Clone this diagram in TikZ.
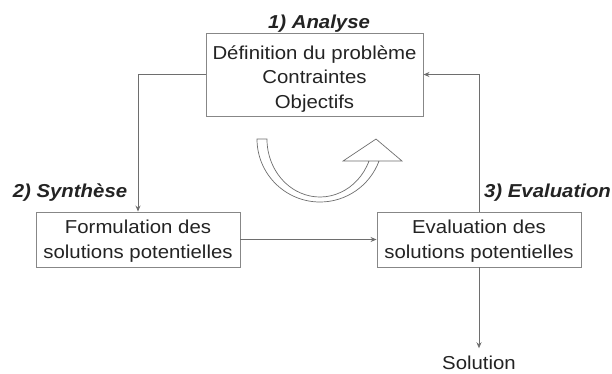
\documentclass[tikz,border=0pt]{standalone}
\usepackage{fontspec}
\setmainfont{Liberation Sans}[FakeStretch=1.09]
\usetikzlibrary{arrows.meta}
\definecolor{linegray}{RGB}{110,110,110}
\definecolor{boxgray}{RGB}{135,135,135}
\definecolor{txt}{RGB}{35,35,35}
\begin{document}
\begin{tikzpicture}[x=1pt,y=-1pt,
  box/.style={draw=boxgray, line width=0.9pt, inner sep=0pt, align=center, text=txt,
    font=\fontsize{18.7}{24.5}\selectfont, text depth=0pt},
  lbl/.style={inner sep=0pt, text=txt, font=\fontsize{18.7}{22}\selectfont\bfseries\itshape, anchor=base},
  conn/.style={draw=linegray, line width=0.8pt},
  arr/.style={conn, -{Stealth[length=6pt,width=5pt]}}]
\useasboundingbox (0,0) rectangle (612,373);
\node[box, minimum width=217pt, minimum height=83pt, text height=67pt] (top) at (314.5,74.5)
  {Définition du problème\\Contraintes\\Objectifs};
\node[box, minimum width=204pt, minimum height=55pt, text height=37pt] (b2) at (138,239.5)
  {Formulation des\\solutions potentielles};
\node[box, minimum width=204pt, minimum height=55pt, text height=37pt] (b3) at (479,239.5)
  {Evaluation des\\solutions potentielles};
\node[lbl] (l1) at (319,28) {1) Analyse};
\node[lbl] (l2) at (70,197) {2) Synthèse};
\node[lbl] (l3) at (547.5,197) {3) Evaluation};
\node[inner xsep=0pt, inner ysep=7pt, anchor=base, text=txt, font=\fontsize{18.7}{22}\selectfont] (sol) at (479,369) {Solution};
\draw[arr] (top.west) -| (b2.north);
\draw[arr] (b3.north) |- (top.east);
\draw[arr] (b2.east) -- (b3.west);
\draw[arr] (b3.south) -- (sol.north);
\draw[draw=linegray, fill=white, line width=0.7pt, line join=miter]
  (257,139) arc[start angle=180, end angle=20.4, radius=63]
  -- (343,161) -- (376,139) -- (402,161) -- (369,161)
  arc[start angle=22.3, end angle=180, x radius=53, y radius=58] -- cycle;
\end{tikzpicture}
\end{document}
